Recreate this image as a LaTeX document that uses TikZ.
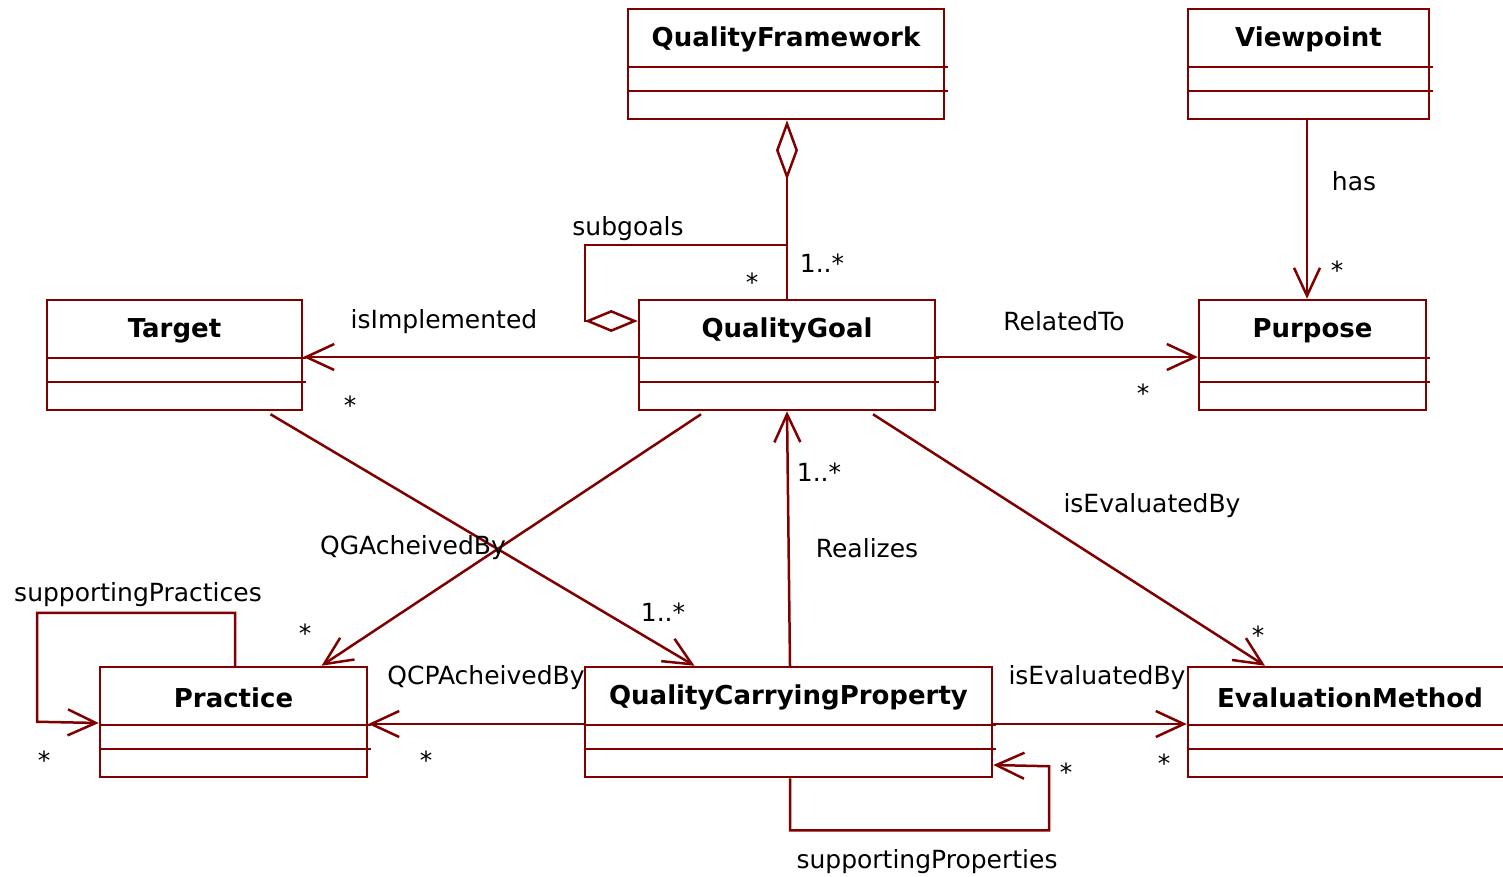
\documentclass[tikz,border=0pt]{standalone}
\usepackage{fontspec}
\setmainfont{DejaVu Sans}
\usetikzlibrary{arrows.meta}
\definecolor{umlred}{HTML}{800000}
\tikzset{
  classbox/.style={draw=umlred, line width=2.5pt, minimum height=110pt, inner sep=0pt},
  classtitle/.style={font=\fontsize{26}{30}\selectfont\bfseries, inner sep=0pt},
  assoc/.style={draw=umlred, line width=2.5pt},
  nav/.style={assoc, -{Straight Barb[length=28pt, width=26pt, line width=2.5pt]}},
  rolename/.style={font=\fontsize{25}{30}\selectfont, inner sep=0pt},
}
\begin{document}
\begin{tikzpicture}[x=1pt, y=-1pt]
  \useasboundingbox (0,0) rectangle (1503,876);
  % classes
  \node[classbox, minimum width=316pt] (framework) at (786,64) {};
  \node[classbox, minimum width=241pt] (viewpoint) at (1308.5,64) {};
  \node[classbox, minimum width=255pt] (target) at (174.5,355) {};
  \node[classbox, minimum width=296pt] (goal) at (787,355) {};
  \node[classbox, minimum width=227pt] (purpose) at (1312.5,355) {};
  \node[classbox, minimum width=267pt] (practice) at (233.5,722) {};
  \node[classbox, minimum width=407pt] (qcp) at (788.5,722) {};
  \node[classbox, minimum width=324pt] (method) at (1350,722) {};
  \foreach \c in {framework, viewpoint, target, goal, purpose, practice, qcp, method} {
    \draw[assoc] ([yshift=-59pt]\c.north west) -- ([yshift=-59pt, xshift=3pt]\c.north east);
    \draw[assoc] ([yshift=-83pt]\c.north west) -- ([yshift=-83pt, xshift=3pt]\c.north east);
  }
  \node[classtitle] (framework-t) at ([yshift=-32pt]framework.north) {QualityFramework};
  \node[classtitle] (viewpoint-t) at ([yshift=-32pt]viewpoint.north) {Viewpoint};
  \node[classtitle] (target-t) at ([yshift=-32pt]target.north) {Target};
  \node[classtitle] (goal-t) at ([yshift=-32pt]goal.north) {QualityGoal};
  \node[classtitle] (purpose-t) at ([yshift=-32pt]purpose.north) {Purpose};
  \node[classtitle] (practice-t) at ([yshift=-32pt]practice.north) {Practice};
  \node[classtitle] (qcp-t) at ([yshift=-32pt]qcp.north) {QualityCarryingProperty};
  \node[classtitle] (method-t) at ([yshift=-32pt]method.north) {EvaluationMethod};

  % associations
  \coordinate (subjoin) at ([yshift=54pt]goal.north);
  \draw[assoc, {Diamond[open, length=60pt, width=22pt]}-] (goal.north |- framework.south) -- (goal.north);
  \draw[assoc, {Diamond[open, length=53pt, width=22pt]}-] ([yshift=34pt]goal.west) -- ++(-53,0) |- (subjoin);
  \draw[nav] ([yshift=-2pt]goal.west) -- ([yshift=-2pt]target.east);
  \draw[nav] ([yshift=-2pt]goal.east) -- ([yshift=-2pt]purpose.west);
  \draw[nav] ([xshift=-1.5pt]viewpoint.south) -- ([xshift=-1.5pt]viewpoint.south |- purpose.north);
  \draw[nav] ([xshift=96pt, yshift=-3pt]target.south) -- ([xshift=-94pt]qcp.north);
  \draw[nav] ([xshift=-86pt, yshift=-3pt]goal.south) -- ([xshift=88pt]practice.north);
  \draw[nav] ([xshift=1.5pt]qcp.north) -- (goal.south);
  \draw[nav] ([xshift=86pt, yshift=-3pt]goal.south) -- ([xshift=-85pt]method.north);
  \draw[nav] ([yshift=-2pt]qcp.west) -- ([yshift=-2pt]practice.east);
  \draw[nav] ([yshift=-2pt]qcp.east) -- ([yshift=-2pt]method.west);
  \draw[nav] ([xshift=1.5pt]practice.north) -- ++(0,-53) -- ++(-198,0) -- ++(0,109) -- ([yshift=-1pt]practice.west);
  \draw[nav] ([xshift=1.5pt]qcp.south) -- ++(0,52) -- ++(259,0) -- ++(0,-64) -- ([yshift=-43pt]qcp.east);

  % role names
  \node[rolename] (subgoals-l) at (628,229) {subgoals};
  \node[rolename] (impl-l) at (444,322) {isImplemented};
  \node[rolename] (related-l) at (1064,321) {RelatedTo};
  \node[rolename] (has-l) at (1354,181) {has};
  \node[rolename] (qgach-l) at (413,548) {QGAcheivedBy};
  \node[rolename] (realizes-l) at (867,548) {Realizes};
  \node[rolename] (goaleval-l) at (1152,506) {isEvaluatedBy};
  \node[rolename] (suppract-l) at (138,595) {supportingPractices};
  \node[rolename] (qcpach-l) at (486,678) {QCPAcheivedBy};
  \node[rolename] (qcpeval-l) at (1097,678) {isEvaluatedBy};
  \node[rolename] (supprop-l) at (927,862) {supportingProperties};

  % multiplicities
  \node[rolename] (m1) at (822,263) {1..*};
  \node[rolename] (m2) at (752,282) {*};
  \node[rolename] (m3) at (350,405) {*};
  \node[rolename] (m4) at (1143,393) {*};
  \node[rolename] (m5) at (1337,270) {*};
  \node[rolename] (m6) at (819,472) {1..*};
  \node[rolename] (m7) at (663,612) {1..*};
  \node[rolename] (m8) at (305,633) {*};
  \node[rolename] (m9) at (1258,635) {*};
  \node[rolename] (m10) at (44,760) {*};
  \node[rolename] (m11) at (426,760) {*};
  \node[rolename] (m12) at (1164,763) {*};
  \node[rolename] (m13) at (1066,772) {*};
\end{tikzpicture}
\end{document}
